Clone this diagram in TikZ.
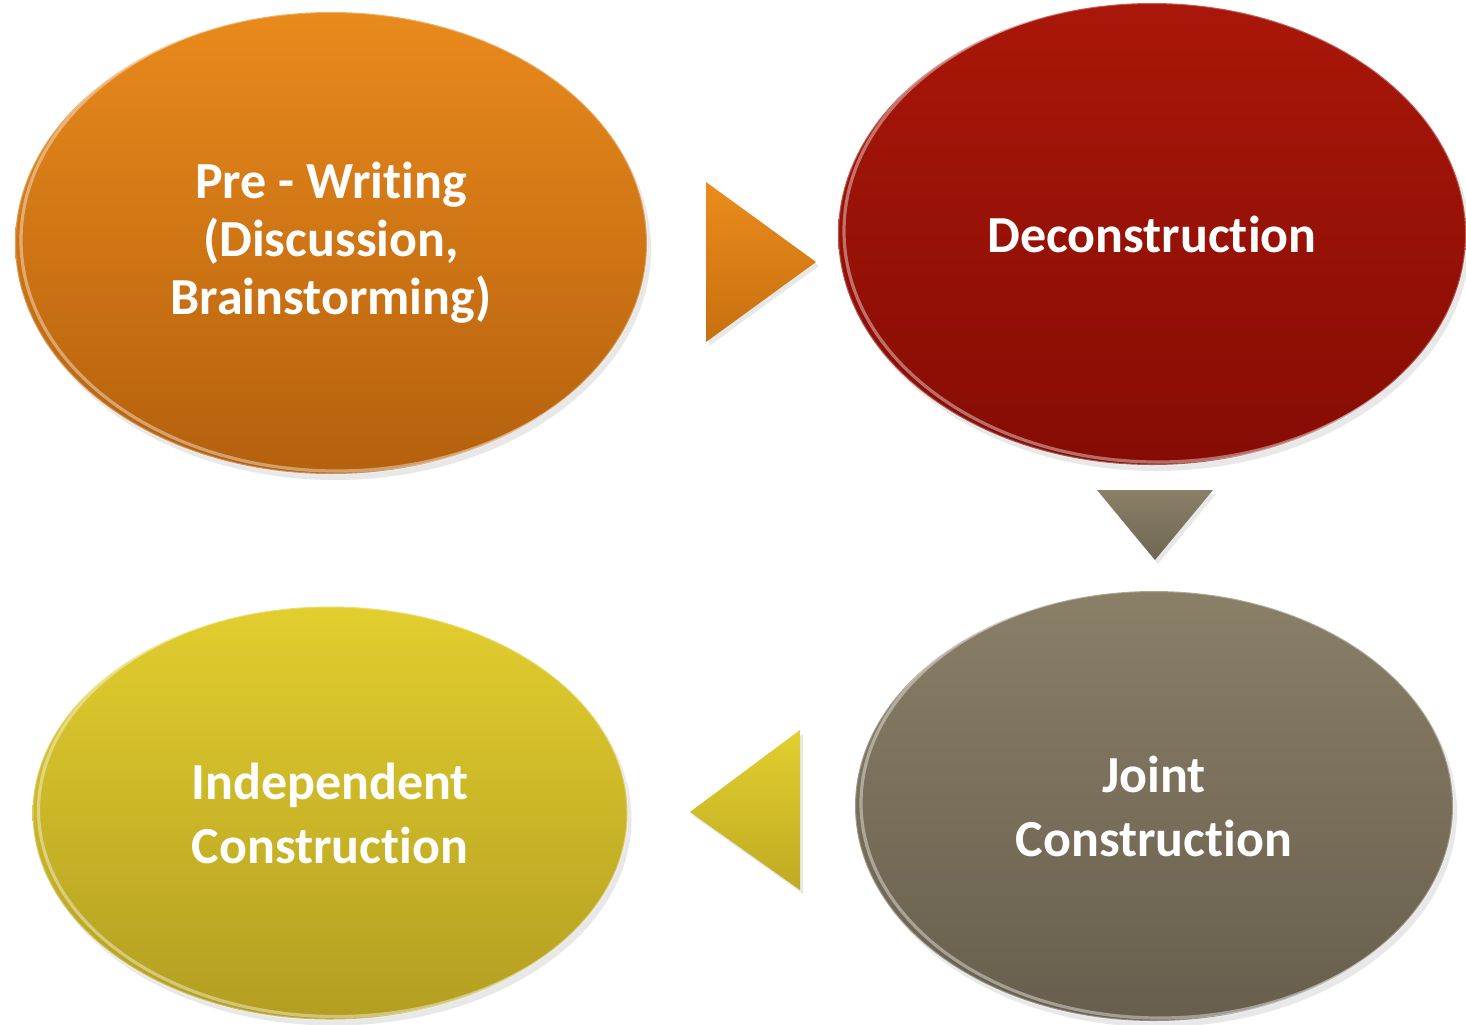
\documentclass[tikz,border=0pt]{standalone}
\usepackage{fontspec}
\setmainfont[Ligatures={NoCommon,NoContextual},Contextuals=NoAlternate]{Carlito}
\usetikzlibrary{shapes.geometric,shadows,calc}
\begin{document}
\begin{tikzpicture}[
          x=0.5pt, y=-0.5pt,
          stage/.style={ellipse, inner sep=0pt, align=center, text=white,
            font=\fontsize{26}{32}\selectfont\bfseries,
            draw=white, draw opacity=.3, line width=1pt,
            drop shadow={opacity=.18, shadow xshift=2pt, shadow yshift=-3pt},
            path picture={
              \draw[white, opacity=.4, line width=1.6pt]
                let \p1=($(path picture bounding box.north east)-(path picture bounding box.center)$) in
                ([shift={(3pt,1.5pt)}]path picture bounding box.center) ellipse [x radius=\x1, y radius=\y1];
            }},
          tip/.style={drop shadow={opacity=.18, shadow xshift=1.5pt, shadow yshift=-2pt}}
        ]
        \useasboundingbox (0,0) rectangle (1466,1024);
        \node[stage, minimum width=316pt, minimum height=231pt,
          top color={rgb,255:red,233;green,138;blue,28}, bottom color={rgb,255:red,180;green,96;blue,13},
          font=\fontsize{26}{29}\selectfont\bfseries] (prewriting) at (331,243)
          {Pre - Wri\kern0pt ting\\(Discussion,\\Brainstorming)};
        \node[stage, minimum width=314pt, minimum height=231pt,
          top color={rgb,255:red,169;green,23;blue,9}, bottom color={rgb,255:red,134;green,12;blue,4}]
          (decon) at (1152,234) {Deconstruc\kern0pt tion};
        \node[stage, minimum width=299pt, minimum height=215pt,
          top color={rgb,255:red,138;green,127;blue,103}, bottom color={rgb,255:red,103;green,94;blue,77}]
          (joint) at (1154,806) {Joint\\Construc\kern0pt tion};
        \node[stage, minimum width=297.5pt, minimum height=206.5pt,
          top color={rgb,255:red,226;green,206;blue,46}, bottom color={rgb,255:red,179;green,158;blue,33}]
          (indep) at (330,813) {Independent\\Construc\kern0pt tion};
        % arrow heads between the stages
        \coordinate (tone) at (761,262);
        \coordinate (ttwo) at (1155,525);
        \coordinate (tthree) at (745,810);
        \shade[tip, top color={rgb,255:red,235;green,140;blue,28}, bottom color={rgb,255:red,198;green,112;blue,15}]
          ([shift={(-55,-80)}]tone) -- ([shift={(55,0)}]tone) -- ([shift={(-55,80)}]tone) -- cycle;
        \shade[tip, top color={rgb,255:red,138;green,128;blue,104}, bottom color={rgb,255:red,111;green,102;blue,82}]
          ([shift={(-58,-35)}]ttwo) -- ([shift={(58,-35)}]ttwo) -- ([shift={(0,35)}]ttwo) -- cycle;
        \shade[tip, top color={rgb,255:red,226;green,207;blue,46}, bottom color={rgb,255:red,192;green,170;blue,34}]
          ([shift={(55,-80)}]tthree) -- ([shift={(-55,2)}]tthree) -- ([shift={(55,80)}]tthree) -- cycle;
        \end{tikzpicture}
\end{document}
